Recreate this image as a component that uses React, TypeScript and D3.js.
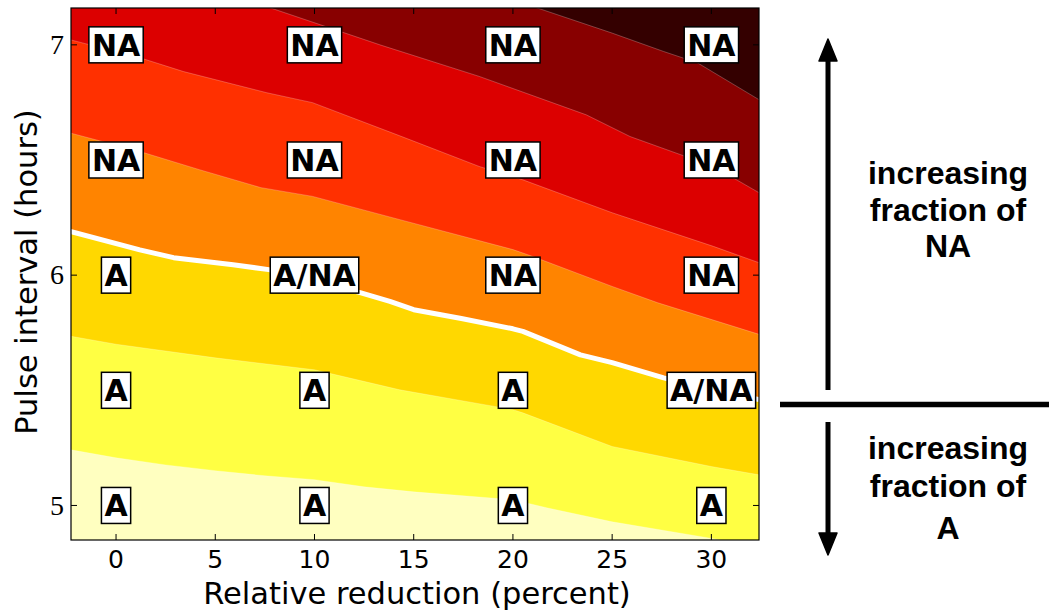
import React from "react";
import * as d3 from "d3";

// axis extents (data units)
const xDomain = [-2.27, 32.4];
const yDomain = [4.85, 7.16];
const xTicks = [0, 5, 10, 15, 20, 25, 30];
const yTicks = [5, 6, 7];

// band colours, bottom (A) to top (NA)
const bandColors = ["#FFFFC0", "#FFFF43", "#FFD800", "#FF8400", "#FF3000", "#DC0000", "#880000", "#340000"];

// contour boundaries: [relative reduction, pulse interval]
const edgeLightYellow = [[-2.3, 5.242], [0, 5.207], [2.5, 5.176], [5, 5.151], [7.5, 5.129], [10, 5.112], [12.5, 5.081], [15, 5.059], [17.5, 5.042], [20, 5.025], [21.7, 4.99], [25, 4.929], [29.8, 4.86], [32.4, 4.82]];
const edgeYellow = [[-2.3, 5.735], [0, 5.7], [5, 5.641], [10, 5.589], [14.3, 5.502], [20, 5.416], [20.5, 5.402], [25, 5.256], [30, 5.169], [32.4, 5.133]];
const edgeGold = [[-2.3, 6.19], [1.2, 6.11], [2.9, 6.076], [5.9, 6.045], [7.7, 6.024], [10, 5.975], [12.3, 5.924], [13.8, 5.886], [15, 5.85], [17.4, 5.812], [20, 5.767], [20.5, 5.756], [23.4, 5.654], [25, 5.62], [27.6, 5.554], [30, 5.5], [32.4, 5.46]];
const edgeOrange = [[-2.3, 6.617], [1.2, 6.537], [4.2, 6.458], [7.3, 6.38], [9.9, 6.342], [14.3, 6.241], [20, 6.111], [21, 6.081], [25, 5.951], [27.3, 5.88], [32.4, 5.743]];
const edgeRedOrange = [[-2.3, 7.022], [1.2, 6.944], [3.4, 6.884], [7.6, 6.792], [9.9, 6.749], [14.3, 6.605], [18.3, 6.472], [20.5, 6.414], [25, 6.271], [30.1, 6.125], [32.4, 6.054]];
const edgeRed = [[-2.3, 7.45], [7.76, 7.161], [13.3, 7.0], [18.3, 6.863], [23.7, 6.696], [25.9, 6.602], [30.1, 6.472], [32.4, 6.358]];
const edgeDarkRed = [[-2.3, 7.84], [21.2, 7.161], [25, 7.051], [27.6, 6.971], [29.3, 6.922], [32.4, 6.762]];
const edges = [edgeLightYellow, edgeYellow, edgeGold, edgeOrange, edgeRedOrange, edgeRed, edgeDarkRed];
const markedEdge = 2; // the A / NA transition, drawn in white

// labelled grid points
const labelX = [0, 10, 20, 30];
const labelY = [7, 6.5, 6, 5.5, 5];
const labelRows = [
  ["NA", "NA", "NA", "NA"],
  ["NA", "NA", "NA", "NA"],
  ["A", "A/NA", "NA", "NA"],
  ["A", "A", "A", "A/NA"],
  ["A", "A", "A", "A"],
];

const W = 1049;
const H = 614;
const left = 71, right = 759, top = 8, bottom = 540;

// DejaVu Sans Bold advance widths
const charW = { A: 0.774, N: 0.837, "/": 0.365 };
const boxFont = 30;
const textWidth = (s) => s.split("").reduce((a, c) => a + (charW[c] || 0.7), 0) * boxFont;

export default function App() {
  const x = d3.scaleLinear().domain(xDomain).range([left, right]);
  const y = d3.scaleLinear().domain(yDomain).range([bottom, top]);

  const area = d3.area()
    .x(d => x(d[0]))
    .y0(top - 20)
    .y1(d => y(d[1]));
  const line = d3.line()
    .x(d => x(d[0]))
    .y(d => y(d[1]));

  const sans = "DejaVu Sans, sans-serif";

  return (
    <svg width={W} height={H} style={{ position: "absolute", left: 0, top: 0, background: "#fff" }}>
      <defs>
        <clipPath id="plot">
          <rect x={left} y={top} width={right - left} height={bottom - top} />
        </clipPath>
      </defs>
      <g clipPath="url(#plot)">
        <rect x={left} y={top} width={right - left} height={bottom - top} fill={bandColors[0]} />
        {edges.map((e, i) => (
          <path key={i} d={area(e)} fill={bandColors[i + 1]} />
        ))}
        {edges.map((e, i) => i !== markedEdge && (
          <path key={"l" + i} d={line(e)} fill="none" stroke="#fff" strokeOpacity={0.3} strokeWidth={0.8} />
        ))}
        <path d={line(edges[markedEdge])} fill="none" stroke="#fff" strokeWidth={5} strokeLinejoin="round" />
      </g>

      {/* frame and ticks */}
      <rect x={left} y={top} width={right - left} height={bottom - top} fill="none" stroke="#000" strokeWidth={1.2} />
      {xTicks.map(t => (
        <g key={"xt" + t}>
          <line x1={x(t)} x2={x(t)} y1={bottom} y2={bottom - 6} stroke="#000" />
          <line x1={x(t)} x2={x(t)} y1={top} y2={top + 6} stroke="#000" />
          <text x={x(t)} y={568} textAnchor="middle" fontFamily={sans} fontSize={25}>{t}</text>
        </g>
      ))}
      {yTicks.map(t => (
        <g key={"yt" + t}>
          <line x1={left} x2={left + 6} y1={y(t)} y2={y(t)} stroke="#000" />
          <line x1={right} x2={right - 6} y1={y(t)} y2={y(t)} stroke="#000" />
          <text x={64} y={y(t)} dy="0.33em" textAnchor="end" fontFamily="Liberation Serif, serif" fontSize={28}>{t}</text>
        </g>
      ))}
      <text x={417} y={604} textAnchor="middle" fontFamily={sans} fontSize={30.5}>Relative reduction (percent)</text>
      <text transform={`translate(37,272) rotate(-90)`} textAnchor="middle" fontFamily={sans} fontSize={30.5}>Pulse interval (hours)</text>

      {/* state labels */}
      {labelRows.map((row, r) => row.map((s, c) => {
        const cx = x(labelX[c]);
        const cy = y(labelY[r]);
        const w = textWidth(s) + 6;
        return (
          <g key={`b${r}-${c}`}>
            <rect x={cx - w / 2} y={cy - 18} width={w} height={36} fill="#fff" stroke="#000" strokeWidth={1.5} />
            <text x={cx} y={cy + 10.9} textAnchor="middle" fontFamily={sans} fontWeight="bold" fontSize={boxFont}>{s}</text>
          </g>
        );
      }))}

      {/* right-hand annotation */}
      <g fontFamily="Liberation Sans, Arial, sans-serif" fontWeight="bold" fontSize={32} textAnchor="middle">
        <line x1={828} x2={828} y1={58} y2={390} stroke="#000" strokeWidth={5} />
        <path d="M828,39 L819,61 L837,61 Z" fill="#000" stroke="#000" strokeWidth={1.5} strokeLinejoin="round" />
        <line x1={780} x2={1049} y1={404.5} y2={404.5} stroke="#000" strokeWidth={5.5} />
        <line x1={828} x2={828} y1={422} y2={537} stroke="#000" strokeWidth={5} />
        <path d="M828,555 L819,533 L837,533 Z" fill="#000" stroke="#000" strokeWidth={1.5} strokeLinejoin="round" />
        <text x={948} y={184}>increasing</text>
        <text x={948} y={221}>fraction of</text>
        <text x={948} y={257}>NA</text>
        <text x={948} y={459}>increasing</text>
        <text x={948} y={497}>fraction of</text>
        <text x={948} y={539}>A</text>
      </g>
    </svg>
  );
}
